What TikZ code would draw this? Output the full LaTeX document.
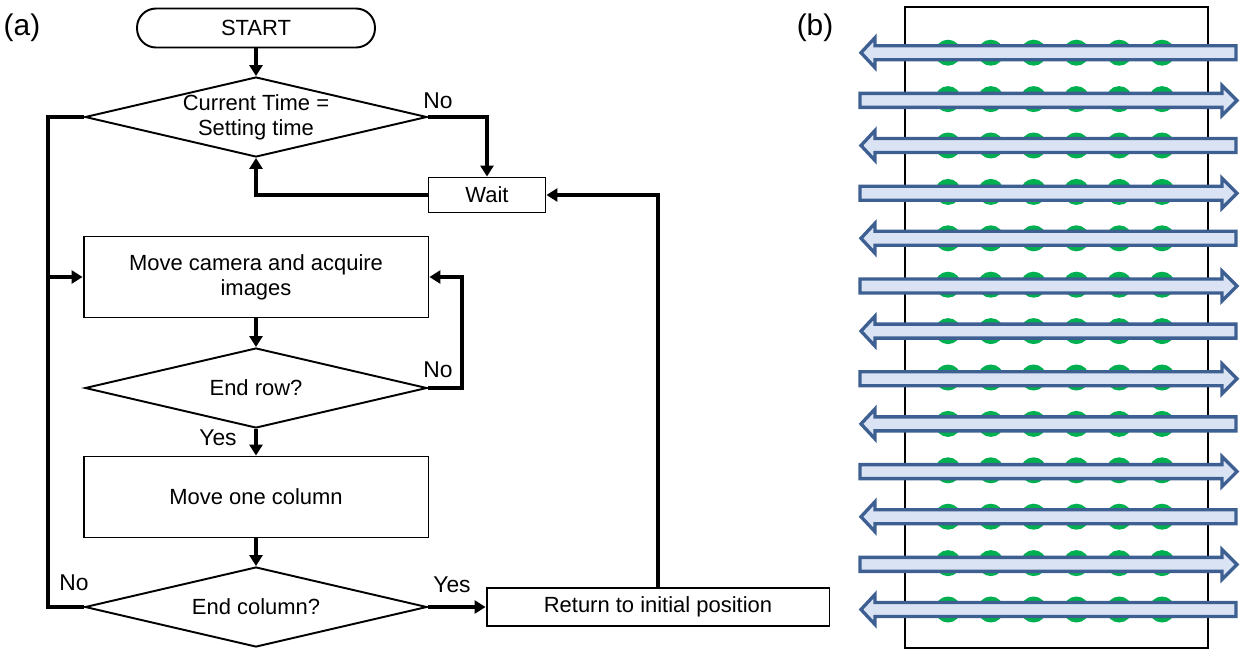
\documentclass[tikz,border=0pt]{standalone}
\usepackage{fontspec}
\setmainfont{Liberation Sans}
\usepackage{xcolor}
\usepackage{tikz}
\usetikzlibrary{arrows.meta,shapes.geometric,positioning}

\definecolor{scanfill}{RGB}{218,227,243}
\definecolor{scanedge}{RGB}{61,95,145}
\definecolor{spotgreen}{RGB}{0,176,80}

\begin{document}
\begin{tikzpicture}[x=0.02cm,y=-0.02cm,
  every node/.style={font=\fontsize{12.5}{14.2}\selectfont},
  box/.style={draw,line width=1.1pt,inner sep=0pt,align=center},
  decision/.style={draw,diamond,aspect=4.25,line width=1.1pt,inner sep=0pt,align=center,
    minimum width=6.84cm,minimum height=1.6cm},
  pill/.style={draw,rounded corners=0.38cm,line width=1.1pt,inner sep=0pt},
  line/.style={line width=2pt},
  flow/.style={line,-{Triangle[length=0.22cm,width=0.26cm]}},
  lbl/.style={font=\fontsize{13}{15}\selectfont},
  panel/.style={font=\fontsize{17}{20}\selectfont},
  scanarrow/.style={draw=scanedge,fill=scanfill,line width=1.9pt,line join=miter}]

  \useasboundingbox (0,0) rectangle (1241,650);

  % (a) flow chart
  \node[panel] (pa) at (22,28) {(a)};
  \node[pill,minimum width=4.76cm,minimum height=0.78cm] (start) at (256,28) {START};
  \node[decision] (chk) at (256,117) {Current Time =\\Setting time};
  \node[box,minimum width=2.34cm,minimum height=0.7cm] (wait) at (487,195) {Wait};
  \node[box,minimum width=6.9cm,minimum height=1.62cm] (move) at (256,277) {Move camera and acquire\\images};
  \node[decision] (endrow) at (256,388) {End row?};
  \node[box,minimum width=6.9cm,minimum height=1.62cm] (onecol) at (256,497) {Move one column};
  \node[decision] (endcol) at (256,607) {End column?};
  \node[box,minimum width=6.86cm,minimum height=0.76cm] (ret) at (658,607) {Return to initial position};

  \coordinate (lft) at (48,277);
  \coordinate (rgt) at (462,277);

  \draw[flow] (start) -- (chk);
  \draw[flow] (chk.east) -| (wait.north);
  \draw[flow] (wait.west) -| (chk.south);
  \draw[flow] (ret.north) |- (wait.east);
  \draw[line] (chk.west) -| (lft);
  \draw[flow] (endcol.west) -| (lft) -- (move.west);
  \draw[flow] (move) -- (endrow);
  \draw[flow] (endrow.east) -| (rgt) -- (move.east);
  \draw[flow] (endrow) -- (onecol);
  \draw[flow] (onecol) -- (endcol);
  \draw[flow] (endcol) -- (ret);

  \node[lbl] (no1) at (438,101) {No};
  \node[lbl] (no2) at (438,370) {No};
  \node[lbl] (yes1) at (218,438) {Yes};
  \node[lbl] (no3) at (74,583) {No};
  \node[lbl] (yes2) at (452,585) {Yes};

  % (b) scan path
  \node[panel] (pb) at (815,28) {(b)};
  \draw[line width=1.1pt] (905,7) rectangle (1208,648);
  \foreach \r in {0,...,12}
    \foreach \c in {0,...,5}
      \fill[spotgreen] (948+42.8*\c,52.7+46.4*\r) circle (0.26cm);
  \foreach \r in {0,2,...,12}
    \filldraw[scanarrow,shift={(0,52.7+46.4*\r)}] (861,0) -- (875,-15) -- (875,-7)
      -- (1236,-7) -- (1236,7) -- (875,7) -- (875,15) -- cycle;
  \foreach \r in {1,3,...,11}
    \filldraw[scanarrow,shift={(0,54+46.4*\r)}] (860,-7) -- (1222,-7) -- (1222,-15)
      -- (1237,0) -- (1222,15) -- (1222,7) -- (860,7) -- cycle;

\end{tikzpicture}
\end{document}
